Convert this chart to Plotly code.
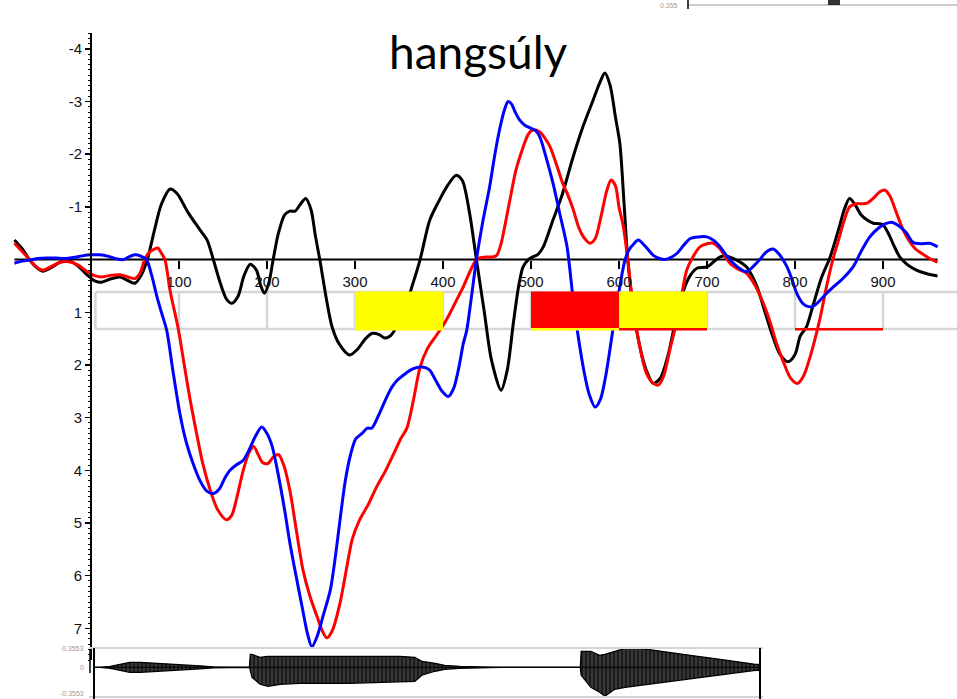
import plotly.graph_objects as go

# ---------------- data ----------------
black_x = [-87, -78, -70, -62, -55, -45, -35, -25, -15, -5, 5, 12, 22, 33, 42, 50, 57, 64, 72, 80, 90, 98,
           110, 124, 132, 139, 147, 154, 160, 167, 174, 181, 188, 193, 197, 202, 207, 213, 220, 226, 232,
           238, 244, 250, 255, 260, 267, 274, 282, 294, 303, 312, 320, 327, 334, 340, 345, 355, 365, 374,
           385, 395, 405, 415, 422, 430, 438, 447, 455, 466, 473, 480, 486, 491, 497, 502, 508, 514, 525,
           536, 547, 559, 570, 578, 584, 590, 596, 601, 606, 610, 616, 623, 631, 639, 647, 656, 665, 673,
           681, 689, 700, 707, 715, 722, 730, 738, 745, 751, 757, 766, 775, 783, 792, 800, 806, 813, 820,
           830, 840, 850, 856, 862, 868, 875, 882, 889, 895, 900, 906, 912, 919, 928, 938, 950, 962]
black_y = [-0.37, -0.2, 0.0, 0.15, 0.22, 0.15, 0.05, 0.02, 0.12, 0.28, 0.41, 0.43, 0.37, 0.33, 0.4, 0.45,
           0.3, 0.0, -0.55, -1.05, -1.34, -1.25, -0.9, -0.56, -0.37, 0.0, 0.45, 0.75, 0.83, 0.7, 0.3, 0.09,
           0.2, 0.5, 0.64, 0.45, 0.0, -0.5, -0.85, -0.92, -0.92, -1.05, -1.16, -0.95, -0.45, 0.0, 0.7,
           1.28, 1.6, 1.81, 1.7, 1.5, 1.4, 1.42, 1.49, 1.45, 1.34, 1.0, 0.5, 0.0, -0.75, -1.1, -1.4, -1.6,
           -1.5, -0.9, 0.0, 1.0, 1.9, 2.48, 2.1, 1.2, 0.5, 0.14, 0.0, -0.05, -0.1, -0.24, -0.75, -1.26,
           -1.9, -2.52, -3.0, -3.35, -3.54, -3.3, -2.7, -2.2, -1.0, 0.0, 0.9, 1.6, 2.1, 2.35, 2.25, 1.8,
           1.1, 0.6, 0.3, 0.16, 0.14, 0.05, -0.05, -0.07, -0.02, 0.05, 0.14, 0.3, 0.52, 1.0, 1.47, 1.8,
           1.94, 1.8, 1.45, 1.28, 0.9, 0.35, -0.05, -0.6, -0.95, -1.16, -1.05, -0.85, -0.75, -0.69, -0.68,
           -0.66, -0.5, -0.28, -0.05, 0.1, 0.2, 0.27, 0.31]

red_x = [-87, -78, -70, -62, -55, -45, -35, -25, -15, -5, 5, 12, 22, 33, 42, 50, 56, 61, 67, 72, 76, 80,
         84, 90, 99, 105, 112, 120, 127, 135, 144, 154, 160, 166, 173, 180, 185, 190, 195, 201, 207, 213,
         219, 226, 233, 241, 249, 257, 263, 268, 274, 283, 290, 297, 305, 315, 325, 335, 345, 352, 359,
         366, 374, 382, 392, 402, 410, 416, 423, 430, 438, 444, 450, 456, 461, 466, 471, 476, 483, 491,
         497, 502, 510, 516, 522, 530, 536, 541, 548, 554, 560, 567, 573, 580, 586, 591, 596, 600, 605,
         610, 616, 623, 631, 639, 645, 651, 658, 666, 672, 677, 684, 692, 700, 707, 714, 720, 726, 735,
         745, 755, 764, 772, 779, 787, 795, 803, 810, 818, 828, 836, 843, 850, 856, 862, 870, 876, 882,
         890, 896, 902, 908, 915, 923, 930, 937, 942, 952, 962]
red_y = [-0.31, -0.15, 0.0, 0.14, 0.2, 0.13, 0.05, 0.04, 0.1, 0.22, 0.31, 0.33, 0.3, 0.29, 0.33, 0.36,
         0.25, 0.0, -0.15, -0.2, -0.22, -0.12, 0.0, 0.6, 1.3, 1.9, 2.6, 3.3, 3.87, 4.35, 4.75, 4.94, 4.85,
         4.5, 4.0, 3.65, 3.55, 3.7, 3.85, 3.87, 3.75, 3.7, 3.9, 4.38, 5.1, 5.9, 6.4, 6.78, 7.05, 7.18,
         7.05, 6.52, 5.9, 5.3, 4.95, 4.65, 4.3, 4.0, 3.65, 3.4, 3.2, 2.7, 2.04, 1.7, 1.45, 1.2, 0.95,
         0.75, 0.52, 0.25, 0.0, -0.04, -0.05, -0.05, -0.08, -0.3, -0.7, -1.13, -1.7, -2.13, -2.38, -2.46,
         -2.42, -2.3, -2.13, -1.75, -1.45, -1.26, -0.95, -0.62, -0.42, -0.31, -0.4, -0.85, -1.3, -1.51,
         -1.4, -1.0, -0.62, 0.0, 0.9, 1.6, 2.15, 2.35, 2.38, 2.2, 1.7, 1.15, 0.6, 0.2, -0.05, -0.24,
         -0.3, -0.31, -0.22, -0.08, 0.07, 0.18, 0.26, 0.5, 0.83, 1.2, 1.59, 1.95, 2.25, 2.35, 2.2, 1.8,
         1.15, 0.5, 0.0, -0.4, -0.75, -1.0, -1.06, -1.06, -1.07, -1.18, -1.28, -1.32, -1.2, -0.9, -0.56,
         -0.35, -0.2, -0.14, -0.03, 0.05]

blue_x = [-87, -78, -70, -60, -50, -40, -30, -20, -10, 0, 10, 20, 30, 37, 43, 50, 56, 63, 69, 75, 80, 86,
          93, 101, 108, 116, 124, 132, 139, 146, 152, 158, 165, 173, 180, 187, 194, 200, 206, 213, 220,
          226, 233, 240, 246, 251, 257, 264, 272, 278, 283, 289, 295, 301, 308, 314, 319, 327, 335, 342,
          348, 356, 365, 374, 380, 385, 392, 399, 406, 412, 418, 423, 427, 432, 438, 445, 453, 459, 465,
          470, 474, 478, 482, 487, 493, 499, 505, 510, 517, 525, 533, 541, 548, 554, 560, 566, 573, 579,
          585, 593, 600, 607, 612, 617, 622, 630, 639, 646, 652, 659, 666, 674, 681, 690, 700, 708, 715,
          722, 730, 738, 745, 752, 760, 767, 775, 782, 791, 797, 802, 810, 819, 827, 836, 845, 855, 866,
          875, 885, 895, 903, 910, 917, 923, 927, 934, 943, 953, 962]
blue_y = [0.07, 0.03, 0.01, -0.02, -0.03, -0.03, -0.02, -0.04, -0.07, -0.09, -0.09, -0.06, -0.01, 0.0,
          -0.05, -0.09, -0.07, 0.0, 0.3, 0.71, 1.0, 1.34, 2.1, 2.92, 3.45, 3.87, 4.2, 4.4, 4.44, 4.35,
          4.15, 4.0, 3.9, 3.81, 3.6, 3.35, 3.18, 3.3, 3.55, 4.1, 4.75, 5.38, 6.0, 6.6, 7.1, 7.35, 7.15,
          6.75, 6.27, 5.6, 4.94, 4.2, 3.7, 3.4, 3.3, 3.2, 3.2, 2.95, 2.65, 2.42, 2.29, 2.18, 2.08, 2.04,
          2.05, 2.1, 2.3, 2.5, 2.6, 2.45, 2.05, 1.6, 1.34, 0.75, 0.0, -0.7, -1.38, -2.0, -2.52, -2.85,
          -3.0, -2.95, -2.8, -2.65, -2.55, -2.5, -2.45, -2.33, -1.95, -1.45, -0.85, -0.24, 0.77, 1.5,
          2.1, 2.55, 2.8, 2.65, 2.2, 1.34, 0.6, 0.0, -0.2, -0.3, -0.37, -0.25, -0.08, -0.02, 0.0, -0.04,
          -0.12, -0.28, -0.4, -0.43, -0.43, -0.36, -0.24, -0.08, 0.07, 0.18, 0.23, 0.14, 0.0, -0.14,
          -0.2, -0.1, 0.14, 0.4, 0.64, 0.85, 0.9, 0.8, 0.64, 0.5, 0.35, 0.14, -0.15, -0.43, -0.6, -0.68,
          -0.71, -0.65, -0.57, -0.5, -0.33, -0.3, -0.31, -0.24]

y_tick_values = [-4, -3, -2, -1, 1, 2, 3, 4, 5, 6, 7]
x_tick_values = [100, 200, 300, 400, 500, 600, 700, 800, 900]

# annotation grid cells (100-wide) and highlighted intervals
cell_edges = [5, 100, 200, 300, 400, 500, 600, 700, 800, 900]
mark_start = [300, 500, 600, 800]
mark_end = [400, 600, 700, 900]
mark_fill = ["#ffff00", "#ff0000", "#ffff00", None]
mark_underline = [None, "#ffff00", "#ff0000", "#ff0000"]

# speech waveform envelope (upper / lower amplitude, arbitrary units)
wave_x = [3, 10, 22, 33, 44, 56, 78, 101, 124, 139, 158, 180, 181, 183, 192, 201, 215, 237, 294, 351,
          368, 376, 391, 402, 419, 442, 465, 556, 557, 568, 578, 584, 595, 607, 624, 647, 681, 715, 738,
          755, 760]
wave_top = [0, 0, 1, 3, 5, 5, 4, 3, 1.5, 0.5, 0, 0, 13, 13, 10, 11, 11, 11, 11, 11, 10, 6, 4, 2, 1,
            0.5, 0, 0, 16, 16, 12, 13, 16, 19, 19, 16, 12, 8, 5, 3, 3]
wave_bot = [0, 0, -1, -3, -5, -5, -4, -3, -1.5, -0.5, 0, 0, -3, -10, -17, -19, -17, -16, -16, -15,
            -14, -8, -4, -2, -1, -0.5, 0, 0, -8, -20, -25, -29, -22, -20, -18, -16, -12, -8, -5, -3, -3]

# ---------------- figure ----------------
W, H = 957, 699
TICKFONT = dict(family="Liberation Sans Narrow, Arial Narrow, Liberation Sans, Arial", size=15, color="#111")

fig = go.Figure()

# waveform (lower panel)
fig.add_trace(go.Scatter(x=wave_x, y=wave_top, xaxis="x", yaxis="y2", mode="lines",
                         line=dict(color="black", width=1.2), hoverinfo="skip"))
fig.add_trace(go.Scatter(x=wave_x, y=wave_bot, xaxis="x", yaxis="y2", mode="lines", fill="tonexty",
                         fillcolor="rgba(0,0,0,0.78)",
                         fillpattern=dict(shape="|", fgcolor="black", fillmode="overlay",
                                          size=4, solidity=0.5),
                         line=dict(color="black", width=1.2), hoverinfo="skip"))
fig.add_trace(go.Scatter(x=[wave_x[0], wave_x[-1]], y=[0, 0], xaxis="x", yaxis="y2", mode="lines",
                         line=dict(color="black", width=1), hoverinfo="skip"))

for xs, ys, col in [(black_x, black_y, "#000000"), (red_x, red_y, "#ff0000"), (blue_x, blue_y, "#0000ff")]:
    fig.add_trace(go.Scatter(x=xs, y=ys, mode="lines", line=dict(color=col, width=3, shape="spline",
                                                                  smoothing=0.8), hoverinfo="skip"))

shapes = []
# horizontal zero line
shapes.append(dict(type="line", xref="x", yref="y", x0=min(black_x), x1=max(black_x), y0=0, y1=0,
                   line=dict(color="black", width=2), layer="below"))
# gray grid box
BOX_TOP, BOX_BOT = 0.617, 1.32
for yy in (BOX_TOP, BOX_BOT):
    shapes.append(dict(type="line", xref="x", yref="y", x0=cell_edges[0], x1=1000, y0=yy, y1=yy,
                       line=dict(color="#d6d6d6", width=2.5), layer="below"))
for xe in cell_edges:
    shapes.append(dict(type="line", xref="x", yref="y", x0=xe, x1=xe, y0=BOX_TOP, y1=BOX_BOT,
                       line=dict(color="#d6d6d6", width=2.5), layer="below"))
for s, e, f, u in zip(mark_start, mark_end, mark_fill, mark_underline):
    if f:
        shapes.append(dict(type="rect", xref="x", yref="y", x0=s, x1=e, y0=BOX_TOP - 0.01,
                           y1=1.30 if u else 1.345, fillcolor=f, line=dict(width=0), layer="above"))
    if u:
        shapes.append(dict(type="rect", xref="x", yref="y", x0=s, x1=e, y0=1.30, y1=1.345,
                           fillcolor=u, line=dict(width=0), layer="above"))


def py(v):
    return (H - v) / H


def px(v):
    return v / W


# waveform panel frame
for yy in (648, 697):
    shapes.append(dict(type="line", xref="paper", yref="paper", x0=px(89), x1=px(763), y0=py(yy), y1=py(yy),
                       line=dict(color="#d4d4d4", width=2)))
shapes.append(dict(type="line", xref="paper", yref="paper", x0=px(94), x1=px(94), y0=py(648), y1=py(699),
                   line=dict(color="black", width=2)))
shapes.append(dict(type="line", xref="paper", yref="paper", x0=px(760), x1=px(760), y0=py(648), y1=py(699),
                   line=dict(color="black", width=2)))
shapes.append(dict(type="line", xref="paper", yref="paper", x0=px(90), x1=px(90), y0=py(649), y1=py(673),
                   line=dict(color="black", width=1.5)))
# fragment of another panel at the top edge
shapes.append(dict(type="line", xref="paper", yref="paper", x0=px(688), x1=px(957), y0=py(5), y1=py(5),
                   line=dict(color="#bdbdbd", width=1.5)))
shapes.append(dict(type="line", xref="paper", yref="paper", x0=px(688), x1=px(688), y0=py(0), y1=py(9),
                   line=dict(color="black", width=1.5)))
shapes.append(dict(type="rect", xref="paper", yref="paper", x0=px(828), x1=px(840), y0=py(0), y1=py(5),
                   fillcolor="rgba(0,0,0,0.8)", line=dict(width=0)))

SMALL = dict(size=7, color="#9a9a9a", family="Liberation Sans")
annotations = [
    dict(text="hangsúly", xref="paper", yref="paper", x=px(478), y=py(52), showarrow=False,
         font=dict(family="Lato, Open Sans, sans-serif", size=46, color="black"), xanchor="center",
         yanchor="middle"),
    dict(text="0.3553", xref="paper", yref="paper", x=px(86), y=py(648), showarrow=False, xanchor="right",
         yanchor="middle", font=SMALL),
    dict(text="0", xref="paper", yref="paper", x=px(86), y=py(667), showarrow=False, xanchor="right",
         yanchor="middle", font=SMALL),
    dict(text="-0.3553", xref="paper", yref="paper", x=px(86), y=py(693), showarrow=False, xanchor="right",
         yanchor="middle", font=SMALL),
    dict(text="0.355", xref="paper", yref="paper", x=px(680), y=py(6), showarrow=False, xanchor="right",
         yanchor="middle", font=SMALL),
]

fig.update_layout(
    width=W, height=H, margin=dict(l=0, r=0, t=0, b=0),
    paper_bgcolor="white", plot_bgcolor="rgba(0,0,0,0)", showlegend=False,
    xaxis=dict(range=[-103.4, 984.1], domain=[0, 1], anchor="free", position=(H - 259.5) / H,
               showline=False, showgrid=False, zeroline=False, tickvals=x_tick_values,
               ticks="outside", ticklen=8, tickwidth=1.5, tickcolor="black", tickfont=TICKFONT),
    yaxis=dict(range=[7.6, -4.3], domain=[(H - 660) / H, (H - 33) / H], anchor="free", position=91 / W,
               showline=True, linewidth=2, linecolor="black", showgrid=False, zeroline=False,
               tickvals=y_tick_values, ticktext=[str(v) for v in y_tick_values],
               ticks="outside", ticklen=5, tickwidth=1.5, tickcolor="black", tickfont=TICKFONT,
               minor=dict(dtick=0.1, ticks="outside", ticklen=2, tickcolor="black", tickwidth=1)),
    yaxis2=dict(range=[-29.7, 19.3], domain=[(H - 697) / H, (H - 648) / H], anchor="x", visible=False,
                showgrid=False, zeroline=False),
    shapes=shapes, annotations=annotations,
)

fig.write_html("out.html", config={"displayModeBar": False, "staticPlot": True},
               post_script="document.body.style.margin='0';document.body.style.overflow='hidden';")
